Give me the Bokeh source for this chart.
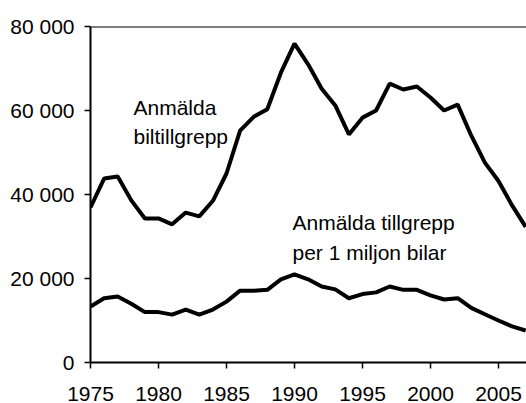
from bokeh.plotting import figure
from bokeh.models import Span, Label, FixedTicker, Range1d
from bokeh.embed import file_html
from bokeh.resources import INLINE

years = list(range(1975, 2008))
biltillgrepp = [36900, 43800, 44300, 38600, 34300, 34300, 32900, 35700, 34800, 38500,
                45000, 55200, 58500, 60300, 69000, 75900, 71000, 65200, 61200, 54300,
                58300, 60000, 66400, 65000, 65700, 63100, 60000, 61400, 54000, 47600,
                43200, 37400, 32300]
per_miljon = [13300, 15300, 15700, 14000, 12000, 12000, 11400, 12600, 11400, 12600,
              14500, 17100, 17100, 17300, 19800, 21000, 19800, 18100, 17400, 15300,
              16300, 16700, 18100, 17300, 17300, 16000, 15000, 15300, 13000, 11500,
              10000, 8600, 7600]
x_ticks = [1975, 1980, 1985, 1990, 1995, 2000, 2005]
y_ticks = [0, 20000, 40000, 60000, 80000]
y_tick_labels = ["0", "20 000", "40 000", "60 000", "80 000"]
label_upper = ["Anmälda", "biltillgrepp"]
label_lower = ["Anmälda tillgrepp", "per 1 miljon bilar"]

FONT = "Liberation Sans"
FS = "21px"

p = figure(width=526, height=403, output_backend="svg", toolbar_location=None,
           x_range=Range1d(1975, 2007.06), y_range=Range1d(0, 80000),
           min_border_left=90, min_border_top=26, min_border_bottom=41, min_border_right=0)
p.outline_line_color = None
p.grid.visible = False

p.line(years, biltillgrepp, line_color="black", line_width=4)
p.line(years, per_miljon, line_color="black", line_width=4)

p.add_layout(Span(location=80000, dimension="width", line_color="black", line_width=2))

for ax in (p.xaxis[0], p.yaxis[0]):
    ax.axis_line_color = "black"
    ax.axis_line_width = 2
    ax.major_tick_line_color = "black"
    ax.major_tick_line_width = 1.5
    ax.major_tick_out = 6
    ax.major_tick_in = 0
    ax.minor_tick_line_color = None
    ax.major_label_text_font = FONT
    ax.major_label_text_font_size = FS
    ax.major_label_text_color = "black"

p.xaxis.ticker = FixedTicker(ticks=x_ticks)
p.xaxis.major_label_standoff = 18
p.yaxis.ticker = FixedTicker(ticks=y_ticks)
p.yaxis.major_label_overrides = {t: l for t, l in zip(y_ticks, y_tick_labels)}
p.yaxis.major_label_standoff = 10

for txt, xx, yy in [(label_upper[0], 1978.16, 60700), (label_upper[1], 1978.16, 53800),
                    (label_lower[0], 1989.85, 33300), (label_lower[1], 1989.85, 26200)]:
    p.add_layout(Label(x=xx, y=yy, text=txt, text_font=FONT, text_font_size=FS,
                       text_color="black", text_baseline="alphabetic", text_align="left"))

open("out.html", "w").write(file_html(p, INLINE))
